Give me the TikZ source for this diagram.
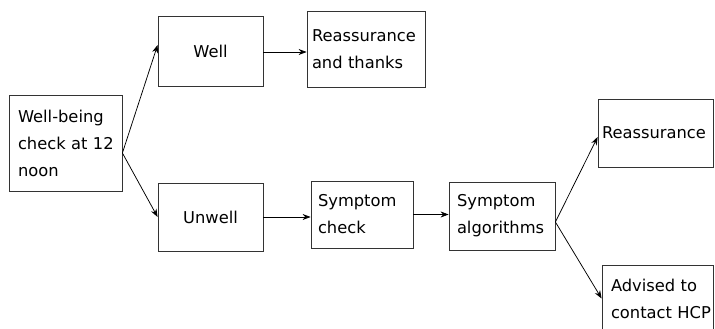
\documentclass[tikz,border=0pt]{standalone}
\usepackage{fontspec}
\setmainfont{DejaVu Sans}
\usetikzlibrary{arrows.meta}
\begin{document}
\begin{tikzpicture}[x=1pt,y=-1pt,
  box/.style={draw=black!80, line width=0.8pt, rectangle, inner ysep=0pt,
    font=\fontsize{16.3}{27}\selectfont},
  lbox/.style={box, align=left},
  arr/.style={draw=black, line width=0.75pt, -{Stealth[length=8pt,width=6pt]}}]
\useasboundingbox (0,0) rectangle (715,329);
\node[lbox, minimum width=113pt, minimum height=96pt, inner xsep=9pt, text width=95pt] (main) at (65.5,143) {Well-being\\check~at~12\\noon};
\node[box, align=center, minimum width=105pt, minimum height=70pt] (well) at (210.5,51) {Well};
\node[lbox, minimum width=118pt, minimum height=76pt, inner xsep=5pt, text width=108pt] (rt) at (366,49) {Reassurance\\and~thanks};
\node[box, align=center, minimum width=105pt, minimum height=68pt] (unwell) at (210.5,217) {Unwell};
\node[lbox, minimum width=102pt, minimum height=67pt, inner xsep=7pt, text width=88pt] (sc) at (362,214.5) {Symptom\\check};
\node[lbox, minimum width=106pt, minimum height=68pt, inner xsep=8pt, text width=90pt] (sa) at (502,216) {Symptom\\algorithms};
\node[lbox, minimum width=115pt, minimum height=68pt, inner xsep=4pt, text width=107pt] (re) at (655.5,133) {Reassurance\\[4pt]};
\node[lbox, minimum width=111pt, minimum height=67pt, inner xsep=9pt, text width=93pt] (adv) at (657.5,298.5) {Advised~to\\contact~HCP};
\draw[arr] ([yshift=-10pt]main.east) -- ([yshift=6pt]well.west);
\draw[arr] ([yshift=-10pt]main.east) -- (unwell.west);
\draw[arr] ([yshift=-1pt]well.east) -- ([yshift=-1pt]well.east -| rt.west);
\draw[arr] (unwell.east) -- (unwell.east -| sc.west);
\draw[arr] (sc.east) -- (sc.east -| sa.west);
\draw[arr] ([yshift=-6pt]sa.east) -- ([yshift=-4pt]re.west);
\draw[arr] ([yshift=-6pt]sa.east) -- (adv.west);
\end{tikzpicture}
\end{document}
